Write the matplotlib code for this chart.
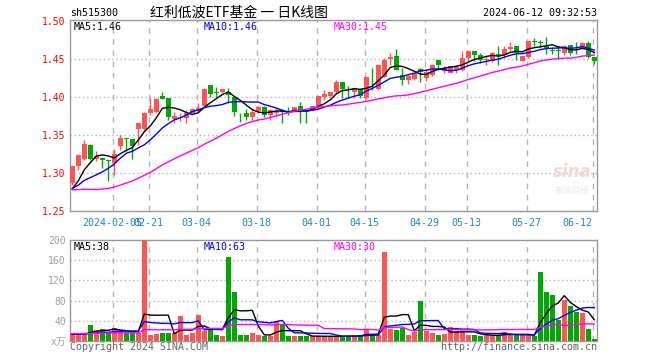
import matplotlib
matplotlib.use('Agg')
import matplotlib.pyplot as plt
import numpy as np
import pandas as pd

# 红利低波ETF 日K (2024-01-25 ~ 2024-06-12), 价格读自图片
open_ = [1.2868, 1.3088, 1.3184, 1.3373, 1.3184, 1.3197, 1.3167, 1.3132, 1.3351, 1.3461,
         1.3447, 1.3579, 1.3583, 1.3798, 1.3802, 1.4017, 1.3995, 1.3710, 1.3719, 1.3723,
         1.3798, 1.3824, 1.3885, 1.4162, 1.4065, 1.4065, 1.4074, 1.4000, 1.3790, 1.3798,
         1.3745, 1.3820, 1.3868, 1.3767, 1.3798, 1.3815, 1.3824, 1.3820, 1.3886, 1.3833,
         1.3842, 1.3886, 1.4000, 1.4021, 1.4074, 1.4206, 1.4074, 1.4065, 1.4109, 1.3986,
         1.4254, 1.4105, 1.4272, 1.4504, 1.4548, 1.4294, 1.4228, 1.4240, 1.4372, 1.4258,
         1.4298, 1.4486, 1.4342, 1.4320, 1.4364, 1.4364, 1.4517, 1.4614, 1.4561, 1.4486,
         1.4473, 1.4565, 1.4552, 1.4636, 1.4670, 1.4482, 1.4526, 1.4732, 1.4719, 1.4675,
         1.4618, 1.4627, 1.4583, 1.4692, 1.4650, 1.4640, 1.4714, 1.4526]
high = [1.3097, 1.3254, 1.3430, 1.3386, 1.3285, 1.3200, 1.3170, 1.3316, 1.3504, 1.3465,
        1.3450, 1.3675, 1.3811, 1.3986, 1.3986, 1.4074, 1.3995, 1.3810, 1.3790, 1.3833,
        1.3855, 1.3920, 1.4118, 1.4162, 1.4130, 1.4109, 1.4118, 1.4000, 1.3798, 1.3840,
        1.3840, 1.3886, 1.3886, 1.3840, 1.3855, 1.3840, 1.3868, 1.3877, 1.3940, 1.3840,
        1.3886, 1.4017, 1.4096, 1.4074, 1.4227, 1.4206, 1.4153, 1.4127, 1.4118, 1.4272,
        1.4380, 1.4434, 1.4513, 1.4578, 1.4636, 1.4380, 1.4302, 1.4320, 1.4380, 1.4372,
        1.4438, 1.4486, 1.4407, 1.4407, 1.4430, 1.4614, 1.4627, 1.4614, 1.4583, 1.4540,
        1.4596, 1.4670, 1.4670, 1.4728, 1.4670, 1.4548, 1.4745, 1.4780, 1.4760, 1.4790,
        1.4658, 1.4670, 1.4692, 1.4692, 1.4727, 1.4727, 1.4745, 1.4526]
low = [1.2846, 1.3044, 1.3175, 1.3175, 1.3154, 1.3066, 1.2890, 1.2978, 1.3307, 1.3285,
       1.3184, 1.3372, 1.3570, 1.3767, 1.3790, 1.3973, 1.3700, 1.3657, 1.3680, 1.3657,
       1.3767, 1.3810, 1.3877, 1.4000, 1.4000, 1.4052, 1.3920, 1.3754, 1.3667, 1.3700,
       1.3700, 1.3798, 1.3745, 1.3700, 1.3754, 1.3666, 1.3767, 1.3815, 1.3666, 1.3666,
       1.3830, 1.3855, 1.3960, 1.4008, 1.4039, 1.3986, 1.3986, 1.3986, 1.3986, 1.3980,
       1.4096, 1.4100, 1.4260, 1.4425, 1.4359, 1.4162, 1.4170, 1.4230, 1.4206, 1.4215,
       1.4280, 1.4364, 1.4320, 1.4320, 1.4320, 1.4342, 1.4473, 1.4473, 1.4451, 1.4430,
       1.4460, 1.4430, 1.4517, 1.4605, 1.4495, 1.4474, 1.4517, 1.4670, 1.4660, 1.4570,
       1.4570, 1.4517, 1.4560, 1.4560, 1.4570, 1.4630, 1.4517, 1.4438]
close = [1.3088, 1.3232, 1.3386, 1.3184, 1.3228, 1.3167, 1.3162, 1.3254, 1.3461, 1.3447,
         1.3351, 1.3666, 1.3798, 1.3846, 1.3973, 1.3977, 1.3736, 1.3754, 1.3736, 1.3789,
         1.3842, 1.3855, 1.4105, 1.4039, 1.4061, 1.4109, 1.4030, 1.3810, 1.3786, 1.3745,
         1.3810, 1.3864, 1.3767, 1.3833, 1.3815, 1.3810, 1.3798, 1.3877, 1.3810, 1.3810,
         1.3886, 1.4017, 1.4043, 1.4065, 1.4206, 1.4105, 1.4065, 1.4118, 1.4021, 1.4272,
         1.4250, 1.4425, 1.4490, 1.4526, 1.4359, 1.4228, 1.4280, 1.4315, 1.4337, 1.4337,
         1.4421, 1.4429, 1.4385, 1.4407, 1.4394, 1.4517, 1.4605, 1.4561, 1.4495, 1.4508,
         1.4583, 1.4560, 1.4640, 1.4658, 1.4583, 1.4548, 1.4745, 1.4728, 1.4714, 1.4653,
         1.4614, 1.4605, 1.4670, 1.4583, 1.4645, 1.4714, 1.4526, 1.4473]
# 成交量 (万手)
volume = [15, 13, 13, 32, 22, 24, 15, 26, 22, 15, 15, 15, 200, 12, 13, 16, 15, 15, 50, 12,
          16, 51, 20, 22, 12, 10, 167, 98, 12, 12, 15, 12, 10, 10, 40, 32, 10, 10, 10, 10,
          9, 9, 9, 10, 9, 10, 10, 10, 12, 22, 12, 12, 177, 24, 22, 26, 12, 18, 79, 20,
          15, 12, 13, 28, 20, 18, 12, 12, 9, 12, 12, 12, 17, 12, 12, 13, 12, 9, 137, 98,
          91, 42, 81, 70, 57, 55, 24, 4]

# 窗口之前的收盘价/成交量 (由均线起点估计, 仅用于计算均线)
pre_close = [1.318, 1.322, 1.326, 1.330, 1.296, 1.284, 1.276, 1.270, 1.262, 1.258,
             1.255, 1.262, 1.266, 1.258, 1.252, 1.248, 1.254, 1.262, 1.268, 1.274,
             1.280, 1.276, 1.282, 1.286, 1.278, 1.270, 1.266, 1.272, 1.279]
pre_volume = [16, 14, 18, 15, 13, 17, 16, 14, 15, 18, 16, 13, 15, 17, 14, 16, 15, 13,
              17, 15, 14, 16, 13, 15, 14, 12, 13, 14, 12]

holidays = ['2024-02-09', '2024-02-12', '2024-02-13', '2024-02-14', '2024-02-15',
            '2024-02-16', '2024-04-04', '2024-04-05', '2024-05-01', '2024-05-02',
            '2024-05-03', '2024-06-10']
tick_dates = ['2024-02-05', '2024-02-21', '2024-03-04', '2024-03-18', '2024-04-01',
              '2024-04-15', '2024-04-29', '2024-05-13', '2024-05-27', '2024-06-12']
tick_labels = ['2024-02-05', '02-21', '03-04', '03-18', '04-01',
               '04-15', '04-29', '05-13', '05-27', '06-12']

days = pd.bdate_range('2024-01-25', '2024-06-12')
days = days[~days.isin(pd.to_datetime(holidays))]
x = np.arange(len(days))
tick_pos = [days.get_loc(pd.Timestamp(d)) for d in tick_dates]

o = np.array(open_)
c = np.array(close)
h = np.array(high)
l = np.array(low)
v = np.array(volume)
n = len(c)

cs = pd.Series(pre_close + close)
vs = pd.Series(pre_volume + volume)
ma = {k: cs.rolling(k, min_periods=1).mean().values[-n:] for k in (5, 10, 30)}
vma = {k: vs.rolling(k, min_periods=1).mean().values[-n:] for k in (5, 10, 30)}

RED = '#ff5454'
GREEN = '#00a800'
up = c >= o
colors = np.where(up, RED, GREEN)

mono = 'DejaVu Sans Mono'
cjk = ['Noto Sans CJK SC', 'DejaVu Sans']
W, H = 660, 360

fig = plt.figure(figsize=(6.6, 3.6), dpi=100)
ax = fig.add_axes([70 / W, 1 - 211 / H, 527 / W, 191 / H])
axv = fig.add_axes([70 / W, 1 - 341 / H, 527 / W, 101 / H])

# K线
ax.vlines(x, l, h, colors=colors, linewidth=1, zorder=3)
body_lo = np.minimum(o, c)
body_h = np.maximum(np.abs(c - o), 0.0007)
ax.bar(x, body_h, bottom=body_lo, width=0.8, color=colors, linewidth=0, zorder=4)
ax.plot(x, ma[5], color='black', lw=1, zorder=5)
ax.plot(x, ma[10], color='#0000ff', lw=1, zorder=5)
ax.plot(x, ma[30], color='#ff00ff', lw=1, zorder=5)

# 成交量
axv.bar(x, np.minimum(v, 200), width=0.8, color=colors, linewidth=0, zorder=3)
axv.plot(x, vma[5], color='black', lw=1, zorder=5)
axv.plot(x, vma[10], color='#0000ff', lw=1, zorder=5)
axv.plot(x, vma[30], color='#ff00ff', lw=1, zorder=5)

xlim = (-0.38, 87.45)
ax.set_xlim(*xlim)
axv.set_xlim(*xlim)
ax.set_ylim(1.25, 1.5017)
axv.set_ylim(0, 200)

for a in (ax, axv):
    for s in a.spines.values():
        s.set_color('#999999')
        s.set_linewidth(1)
    for p in tick_pos:
        a.axvline(p - 0.27, color='#b4b4b4', lw=1, linestyle=(0, (4, 4)), zorder=1)

for yv in [1.30, 1.35, 1.40, 1.45]:
    ax.axhline(yv, color='#b4b4b4', lw=1, linestyle=(0, (1, 2)), zorder=1)
for yv in [40, 80, 120, 160]:
    axv.axhline(yv, color='#b4b4b4', lw=1, linestyle=(0, (1, 2)), zorder=1)

ax.set_yticks([1.25, 1.30, 1.35, 1.40, 1.45, 1.50])
ax.set_yticklabels(['1.25', '1.30', '1.35', '1.40', '1.45', '1.50'],
                   color='#ff0000', fontfamily=mono, fontsize=7)
ax.set_xticks([p - 0.27 for p in tick_pos])
ax.set_xticklabels(tick_labels, color='#1a86d0', fontfamily=mono, fontsize=7.2)
ax.get_xticklabels()[-1].set_horizontalalignment('right')
ax.get_xticklabels()[-1].set_x(tick_pos[-1] + 0.6)
ax.tick_params(length=0, pad=3)
ax.tick_params(axis='x', pad=5)

axv.set_yticks([0, 40, 80, 120, 160, 200])
axv.set_yticklabels(['x万', '40', '80', '120', '160', '200'], color='#a0a0a0', fontsize=7)
for t in axv.get_yticklabels():
    t.set_fontfamily([mono, 'Noto Sans CJK SC'])
axv.set_xticks([])
axv.tick_params(length=0, pad=3)


def ftext(px, py, s, **kw):
    fig.text(px / W, 1 - py / H, s, va='center', **kw)


ftext(70, 13, 'sh515300', fontfamily=mono, fontsize=7.2, color='black')
ftext(150, 13, '红利低波ETF基金 一 日K线图', fontfamily=cjk, fontsize=10, color='black')
ftext(597, 13, '2024-06-12 09:32:53', fontfamily=mono, fontsize=7.2, color='black', ha='right')

ftext(74, 27, 'MA5:1.46', fontfamily=mono, fontsize=7.2, color='black')
ftext(204, 27, 'MA10:1.46', fontfamily=mono, fontsize=7.2, color='#0000ff')
ftext(334, 27, 'MA30:1.45', fontfamily=mono, fontsize=7.2, color='#ff00ff')
ftext(74, 247, 'MA5:38', fontfamily=mono, fontsize=7.2, color='black')
ftext(204, 247, 'MA10:63', fontfamily=mono, fontsize=7.2, color='#0000ff')
ftext(334, 247, 'MA30:30', fontfamily=mono, fontsize=7.2, color='#ff00ff')

ftext(70, 347, 'Copyright 2024 SINA.COM', fontfamily=mono, fontsize=7.2, color='#666666')
ftext(597, 347, 'http://finance.sina.com.cn', fontfamily=mono, fontsize=7.2,
      color='#666666', ha='right')

# 新浪水印
ftext(572, 172, 'sina', fontfamily='DejaVu Sans', fontsize=12, fontweight='bold',
      style='italic', color='#f0d8d8', ha='center')
ftext(572, 190, '新浪财经', fontfamily=cjk, fontsize=6, color='#e8e8e8', ha='center')

fig.savefig('out.png', dpi=100)
